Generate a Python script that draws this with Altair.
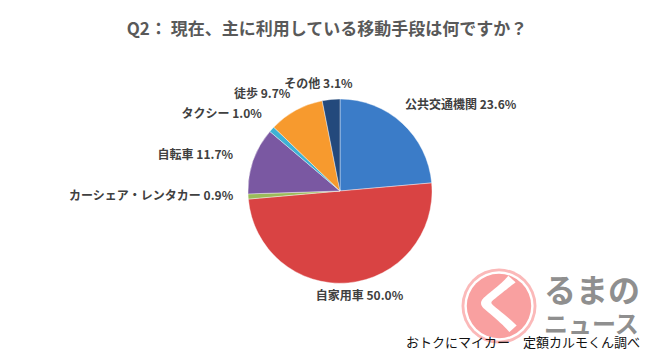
import altair as alt
import pandas as pd

categories = ["公共交通機関", "自家用車", "カーシェア・レンタカー", "自転車", "タクシー", "徒歩", "その他"]
values = [23.6, 50.0, 0.9, 11.7, 1.0, 9.7, 3.1]
colors = ["#3b7cc8", "#d94343", "#9bbb59", "#7a58a2", "#3fb2d4", "#f79a2e", "#23497c"]
title_text = "Q2：  現在、主に利用している移動手段は何ですか？"
source_text = "おトクにマイカー　定額カルモくん調べ"
logo_mark = "く"
logo_upper = "るまの"
logo_lower = "ニュース"

FONT = "Noto Sans CJK JP"
W, H = 634, 342
CX, CY, R = 332, 183, 92

df = pd.DataFrame({"cat": categories, "val": values, "idx": list(range(len(categories)))})
df["label"] = [f"{c} {v:.1f}%" for c, v in zip(categories, values)]

theta_scale = alt.Scale(domain=[0, 100])
color_scale = alt.Scale(domain=categories, range=colors)

base = alt.Chart(df).transform_window(
    cum="sum(val)", sort=[alt.SortField("idx")]
).transform_calculate(
    start="datum.cum - datum.val", mid="datum.cum - datum.val / 2"
)

pie = base.mark_arc(radius=R, stroke="#ffffff", strokeWidth=0.4).encode(
    theta=alt.Theta("start:Q", scale=theta_scale, stack=None),
    theta2="cum:Q",
    color=alt.Color("cat:N", scale=color_scale, legend=None),
    x=alt.value(CX),
    y=alt.value(CY),
)

# label placement style: align, dx, dy
label_style = {
    "公共交通機関": ("left", -8, -6),
    "自家用車": ("center", 10, -3),
    "カーシェア・レンタカー": ("right", 1, -1),
    "自転車": ("right", -5, 0),
    "タクシー": ("right", 2, -5),
    "徒歩": ("right", 2, -2),
    "その他": ("center", -11, 0),
}

layers = [pie]
for c in categories:
    a, dx, dy = label_style[c]
    layers.append(
        base.transform_filter(alt.datum.cat == c).mark_text(
            radius=108, align=a, baseline="middle", dx=dx, dy=dy,
            font=FONT, fontSize=12, fontWeight="bold", color="#404040",
        ).encode(
            theta=alt.Theta("mid:Q", scale=theta_scale, stack=None),
            text="label:N",
            x=alt.value(CX),
            y=alt.value(CY),
        )
    )

one = pd.DataFrame({"k": [0]})

title = alt.Chart(one).mark_text(
    font=FONT, fontSize=17, fontWeight="bold", color="#595959", align="center", baseline="middle"
).encode(x=alt.value(319), y=alt.value(22), text=alt.value(title_text))

# logo (watermark)
LX, LY = 491, 298
logo = [
    alt.Chart(one).mark_circle(size=5625, color="#fbb9b9", opacity=1).encode(x=alt.value(LX), y=alt.value(LY)),
    alt.Chart(one).mark_circle(size=4800, color="#ffffff", opacity=1).encode(x=alt.value(LX), y=alt.value(LY)),
    alt.Chart(one).mark_circle(size=4150, color="#f9a0a0", opacity=1).encode(x=alt.value(LX), y=alt.value(LY)),
    alt.Chart(one).mark_text(font=FONT, fontSize=62, fontWeight="bold", color="#ffffff",
                             align="center", baseline="middle").encode(
        x=alt.value(LX + 2), y=alt.value(LY + 2), text=alt.value(logo_mark)),
    alt.Chart(one).mark_text(font=FONT, fontSize=32, fontWeight="bold", color="#8f8f8f",
                             align="left", baseline="middle").encode(
        x=alt.value(536), y=alt.value(284), text=alt.value(logo_upper)),
    alt.Chart(one).mark_text(font=FONT, fontSize=24, fontWeight="bold", color="#8f8f8f",
                             align="left", baseline="middle").encode(
        x=alt.value(536), y=alt.value(318), text=alt.value(logo_lower)),
]

source = alt.Chart(one).mark_text(
    font=FONT, fontSize=13, color="#111111", align="right", baseline="middle"
).encode(x=alt.value(632), y=alt.value(335), text=alt.value(source_text))

chart = alt.layer(*logo, *layers, title, source).properties(
    width=W, height=H, autosize=alt.AutoSizeParams(type="none"), padding=0,
    background="#ffffff",
).configure_view(stroke=None)

chart.save("out.html", embed_options={"renderer": "svg", "actions": False})
